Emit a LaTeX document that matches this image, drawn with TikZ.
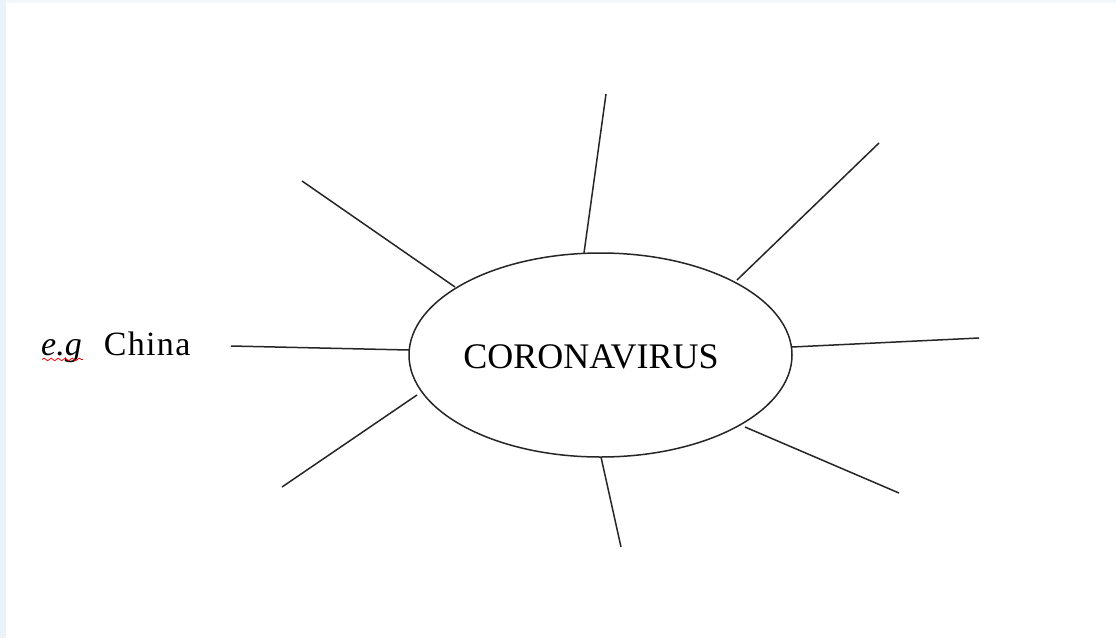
\documentclass[tikz,border=0pt]{standalone}
\usepackage{fontspec}
\setmainfont{Liberation Serif}
\usetikzlibrary{shapes.geometric,decorations.pathmorphing}
\definecolor{edgeblue}{HTML}{EAF3FA}
\definecolor{topblue}{HTML}{F3F8FC}
\tikzset{
  spoke/.style={line width=1.5pt, black!85},
  hub/.style={ellipse, draw, line width=1.5pt, black!85, minimum width=383pt, minimum height=204pt, inner sep=0pt},
}
\begin{document}
\begin{tikzpicture}[x=1pt,y=-1pt]
\useasboundingbox (0,0) rectangle (1116,638);
\fill[white] (0,0) rectangle (1116,638);
\fill[edgeblue] (0,0) rectangle (6,638);
\fill[topblue] (6,0) rectangle (1116,3);
\node[hub] (c) at (600.5,355) {};
\node[anchor=base, font=\fontsize{36}{40}\selectfont] (lab) at (591,368) {CORONAVIRUS};
\node[anchor=base west, inner sep=0pt, font=\fontsize{34}{40}\selectfont] (t) at (41,355) {\textit{e.g}\hspace{22pt}{\addfontfeature{LetterSpace=4}China}};
\draw[red, line width=0.8pt, decorate, decoration={snake, amplitude=1.3pt, segment length=7pt}] (t.south west) ++(1,-3) coordinate (w1) -- ++(41,0) coordinate (w2);
% inner points
\coordinate (i1) at (584,253);
\coordinate (i2) at (737,280);
\coordinate (i3) at (792,347);
\coordinate (i4) at (745,427);
\coordinate (i5) at (601,457);
\coordinate (i6) at (417,395);
\coordinate (i7) at (409,350);
\coordinate (i8) at (455,287);
% outer points
\coordinate (o1) at (606,94);
\coordinate (o2) at (879,143);
\coordinate (o3) at (979,338);
\coordinate (o4) at (899,493);
\coordinate (o5) at (621,547);
\coordinate (o6) at (282,487);
\coordinate (o7) at (231,346);
\coordinate (o8) at (302,181);
\foreach \k in {1,...,8} \draw[spoke] (i\k) -- (o\k);
\end{tikzpicture}
\end{document}
